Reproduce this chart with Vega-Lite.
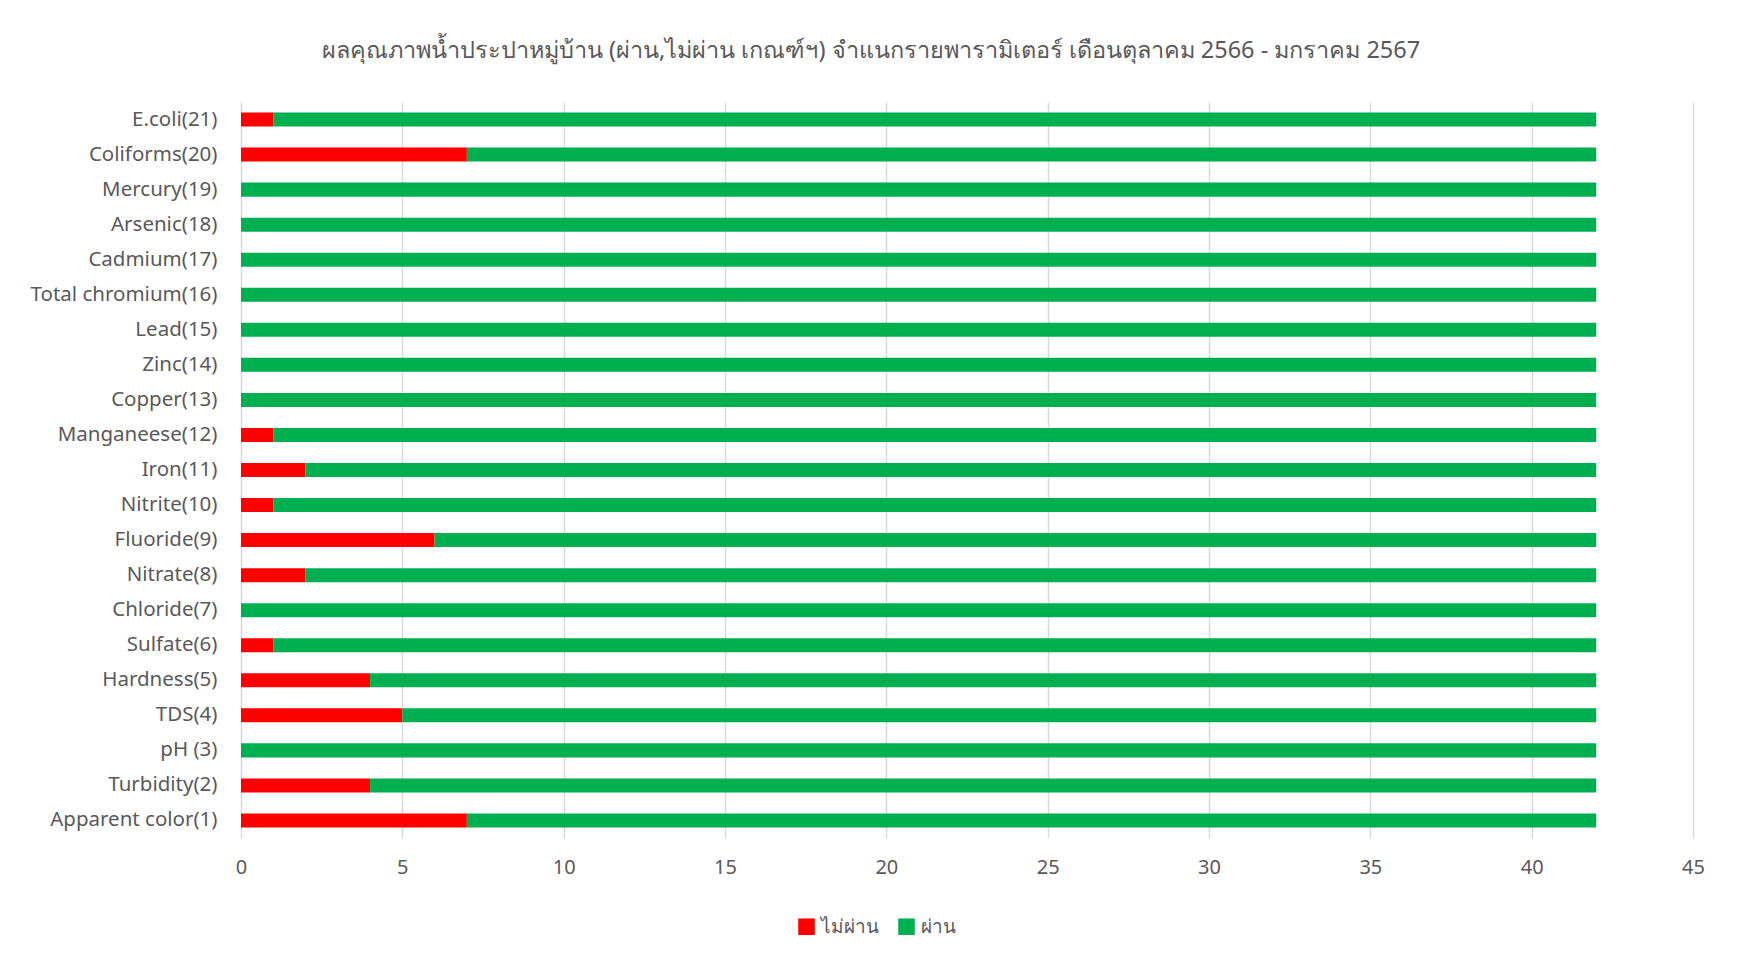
{
  "$schema": "https://vega.github.io/schema/vega-lite/v6.json",
  "width": 1452,
  "height": 736,
  "autosize": {"type": "none"},
  "padding": {"left": 241, "top": 102, "right": 44, "bottom": 126},
  "background": "white",
  "title": {
    "text": "ผลคุณภาพน้ำประปาหมู่บ้าน (ผ่าน,ไม่ผ่าน เกณฑ์ฯ) จำแนกรายพารามิเตอร์ เดือนตุลาคม 2566 - มกราคม 2567",
    "anchor": "middle",
    "frame": "group",
    "dx": -96,
    "offset": 40,
    "font": "Noto Sans",
    "fontSize": 23.5,
    "fontWeight": "normal",
    "color": "#595959"
  },
  "data": {
    "values": [
      {"param": "E.coli(21)", "status": "ไม่ผ่าน", "o": 1, "count": 1},
      {"param": "E.coli(21)", "status": "ผ่าน", "o": 2, "count": 41},
      {"param": "Coliforms(20)", "status": "ไม่ผ่าน", "o": 1, "count": 7},
      {"param": "Coliforms(20)", "status": "ผ่าน", "o": 2, "count": 35},
      {"param": "Mercury(19)", "status": "ไม่ผ่าน", "o": 1, "count": 0},
      {"param": "Mercury(19)", "status": "ผ่าน", "o": 2, "count": 42},
      {"param": "Arsenic(18)", "status": "ไม่ผ่าน", "o": 1, "count": 0},
      {"param": "Arsenic(18)", "status": "ผ่าน", "o": 2, "count": 42},
      {"param": "Cadmium(17)", "status": "ไม่ผ่าน", "o": 1, "count": 0},
      {"param": "Cadmium(17)", "status": "ผ่าน", "o": 2, "count": 42},
      {"param": "Total chromium(16)", "status": "ไม่ผ่าน", "o": 1, "count": 0},
      {"param": "Total chromium(16)", "status": "ผ่าน", "o": 2, "count": 42},
      {"param": "Lead(15)", "status": "ไม่ผ่าน", "o": 1, "count": 0},
      {"param": "Lead(15)", "status": "ผ่าน", "o": 2, "count": 42},
      {"param": "Zinc(14)", "status": "ไม่ผ่าน", "o": 1, "count": 0},
      {"param": "Zinc(14)", "status": "ผ่าน", "o": 2, "count": 42},
      {"param": "Copper(13)", "status": "ไม่ผ่าน", "o": 1, "count": 0},
      {"param": "Copper(13)", "status": "ผ่าน", "o": 2, "count": 42},
      {"param": "Manganeese(12)", "status": "ไม่ผ่าน", "o": 1, "count": 1},
      {"param": "Manganeese(12)", "status": "ผ่าน", "o": 2, "count": 41},
      {"param": "Iron(11)", "status": "ไม่ผ่าน", "o": 1, "count": 2},
      {"param": "Iron(11)", "status": "ผ่าน", "o": 2, "count": 40},
      {"param": "Nitrite(10)", "status": "ไม่ผ่าน", "o": 1, "count": 1},
      {"param": "Nitrite(10)", "status": "ผ่าน", "o": 2, "count": 41},
      {"param": "Fluoride(9)", "status": "ไม่ผ่าน", "o": 1, "count": 6},
      {"param": "Fluoride(9)", "status": "ผ่าน", "o": 2, "count": 36},
      {"param": "Nitrate(8)", "status": "ไม่ผ่าน", "o": 1, "count": 2},
      {"param": "Nitrate(8)", "status": "ผ่าน", "o": 2, "count": 40},
      {"param": "Chloride(7)", "status": "ไม่ผ่าน", "o": 1, "count": 0},
      {"param": "Chloride(7)", "status": "ผ่าน", "o": 2, "count": 42},
      {"param": "Sulfate(6)", "status": "ไม่ผ่าน", "o": 1, "count": 1},
      {"param": "Sulfate(6)", "status": "ผ่าน", "o": 2, "count": 41},
      {"param": "Hardness(5)", "status": "ไม่ผ่าน", "o": 1, "count": 4},
      {"param": "Hardness(5)", "status": "ผ่าน", "o": 2, "count": 38},
      {"param": "TDS(4)", "status": "ไม่ผ่าน", "o": 1, "count": 5},
      {"param": "TDS(4)", "status": "ผ่าน", "o": 2, "count": 37},
      {"param": "pH (3)", "status": "ไม่ผ่าน", "o": 1, "count": 0},
      {"param": "pH (3)", "status": "ผ่าน", "o": 2, "count": 42},
      {"param": "Turbidity(2)", "status": "ไม่ผ่าน", "o": 1, "count": 4},
      {"param": "Turbidity(2)", "status": "ผ่าน", "o": 2, "count": 38},
      {"param": "Apparent color(1)", "status": "ไม่ผ่าน", "o": 1, "count": 7},
      {"param": "Apparent color(1)", "status": "ผ่าน", "o": 2, "count": 35}
    ]
  },
  "mark": {"type": "bar"},
  "encoding": {
    "y": {
      "field": "param",
      "type": "nominal",
      "sort": ["E.coli(21)", "Coliforms(20)", "Mercury(19)", "Arsenic(18)", "Cadmium(17)", "Total chromium(16)", "Lead(15)", "Zinc(14)", "Copper(13)", "Manganeese(12)", "Iron(11)", "Nitrite(10)", "Fluoride(9)", "Nitrate(8)", "Chloride(7)", "Sulfate(6)", "Hardness(5)", "TDS(4)", "pH (3)", "Turbidity(2)", "Apparent color(1)"],
      "scale": {"paddingInner": 0.6, "paddingOuter": 0.3},
      "axis": {
        "title": null,
        "ticks": false,
        "domain": false,
        "grid": false,
        "labelPadding": 24,
        "labelLimit": 400,
        "labelFont": "Noto Sans",
        "labelFontSize": 20.5,
        "labelColor": "#595959"
      }
    },
    "x": {
      "field": "count",
      "type": "quantitative",
      "stack": "zero",
      "scale": {"domain": [0, 45], "nice": false},
      "axis": {
        "title": null,
        "values": [0, 5, 10, 15, 20, 25, 30, 35, 40, 45],
        "ticks": false,
        "domain": false,
        "grid": true,
        "gridColor": "#D9D9D9",
        "gridWidth": 1.5,
        "labelFlush": false,
        "labelPadding": 19,
        "labelFont": "Noto Sans",
        "labelFontSize": 20,
        "labelColor": "#595959"
      }
    },
    "color": {
      "field": "status",
      "type": "nominal",
      "scale": {"domain": ["ไม่ผ่าน", "ผ่าน"], "range": ["#FF0000", "#00B050"]},
      "legend": {
        "title": null,
        "orient": "none",
        "direction": "horizontal",
        "legendX": 556,
        "legendY": 815,
        "symbolType": "square",
        "symbolSize": 275,
        "symbolStrokeWidth": 0,
        "labelFont": "Noto Sans",
        "labelFontSize": 19,
        "labelColor": "#595959",
        "columnPadding": 18,
        "labelOffset": 5,
        "padding": 0
      }
    },
    "order": {"field": "o", "type": "quantitative"}
  },
  "config": {"view": {"stroke": null}}
}
